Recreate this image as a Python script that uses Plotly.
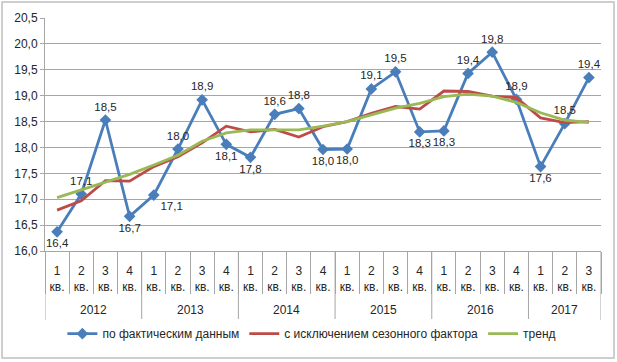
import plotly.graph_objects as go

years = ["2012"] * 4 + ["2013"] * 4 + ["2014"] * 4 + ["2015"] * 4 + ["2016"] * 4 + ["2017"] * 3
quarters = ["1", "2", "3", "4"] * 5 + ["1", "2", "3"]

actual = [16.37, 17.10, 18.53, 16.67, 17.08, 17.97, 18.92, 18.06, 17.81, 18.64, 18.75, 17.96,
          17.97, 19.13, 19.46, 18.30, 18.32, 19.43, 19.84, 18.93, 17.63, 18.46, 19.35]
adjusted = [16.79, 16.97, 17.36, 17.35, 17.63, 17.82, 18.09, 18.41, 18.30, 18.35, 18.20, 18.40,
            18.50, 18.66, 18.79, 18.74, 19.09, 19.08, 18.99, 18.96, 18.57, 18.48, 18.50]
trend = [17.03, 17.18, 17.34, 17.48, 17.66, 17.85, 18.12, 18.28, 18.34, 18.34, 18.34, 18.41,
         18.50, 18.63, 18.76, 18.85, 18.98, 19.03, 18.99, 18.87, 18.67, 18.53, 18.48]
label_pos = ["bottom center", "top center", "top center", "bottom center", "bottom right",
             "top center", "top center", "bottom center", "bottom center", "top center",
             "top center", "bottom center", "bottom center", "top center", "top center",
             "bottom center", "bottom center", "top center", "top center", "top center",
             "bottom center", "top center", "top center"]

names = ["по фактическим данным", "с исключением сезонного фактора", "тренд"]
colors = ["#4a7ebb", "#be4b48", "#98b954"]
grid_color = "#a6a6a6"

ids = [f"{y} {q} кв." for y, q in zip(years, quarters)]
qtext = [f"{q}<br>кв." for q in quarters]

fig = go.Figure()
fig.add_trace(go.Scatter(
    x=ids, y=actual, name=names[0], mode="lines+markers+text",
    line=dict(color=colors[0], width=2.8),
    marker=dict(symbol="diamond", size=9, color=colors[0]),
    texttemplate="%{y:.1f}", textposition=label_pos,
    textfont=dict(family="Liberation Sans, Arial", size=11.5, color="#262626"),
))
fig.add_trace(go.Scatter(
    x=ids, y=adjusted, name=names[1], mode="lines",
    line=dict(color=colors[1], width=2.8),
))
fig.add_trace(go.Scatter(
    x=ids, y=trend, name=names[2], mode="lines",
    line=dict(color=colors[2], width=2.8),
))

# year group labels and dividers (derived from the years list)
groups = []
for i, y in enumerate(years):
    if not groups or groups[-1][0] != y:
        groups.append([y, i, i])
    else:
        groups[-1][2] = i

annotations = []
shapes = [dict(type="rect", xref="paper", yref="paper",
               x0=-0.0773, x1=1.0234, y0=-0.459, y1=1.0687,
               line=dict(color="#bfbfbf", width=1.5), fillcolor="rgba(0,0,0,0)", layer="below")]
for y, a, b in groups:
    annotations.append(dict(x=(a + b) / 2, y=-0.253, xref="x", yref="paper", text=y,
                            showarrow=False, font=dict(size=12, color="#262626"),
                            xanchor="center", yanchor="middle"))
    shapes.append(dict(type="line", xref="x", yref="paper", x0=a - 0.5, x1=a - 0.5,
                       y0=0, y1=-0.296, line=dict(color=grid_color, width=1)))
shapes.append(dict(type="line", xref="x", yref="paper", x0=len(years) - 0.5, x1=len(years) - 0.5,
                   y0=0, y1=-0.296, line=dict(color=grid_color, width=1)))

fig.update_layout(
    width=617, height=362,
    margin=dict(l=45, r=16, t=18, b=111),
    paper_bgcolor="white", plot_bgcolor="white",
    separators=", ",
    font=dict(family="Liberation Sans, Arial", size=12, color="#262626"),
    showlegend=True,
    legend=dict(orientation="h", x=0.48, xanchor="center", y=-0.355, yanchor="middle",
                font=dict(size=12), itemwidth=30, traceorder="normal"),
    annotations=annotations,
    shapes=shapes,
)
fig.update_yaxes(range=[16.0, 20.5], dtick=0.5, tickformat=".1f",
                 showgrid=True, gridcolor=grid_color, gridwidth=1,
                 showline=True, linecolor=grid_color, linewidth=1,
                 ticks="outside", ticklen=4, tickcolor=grid_color,
                 zeroline=False, tickfont=dict(size=12))
fig.update_xaxes(type="category", showgrid=False, tickangle=0,
                 range=[-0.5, len(years) - 0.5],
                 tickmode="array", tickvals=ids, ticktext=qtext,
                 showline=True, linecolor=grid_color, linewidth=1, mirror=False,
                 ticks="outside", ticklen=42, tickcolor=grid_color, tickson="boundaries",
                 ticklabelstandoff=9,
                 tickfont=dict(size=12))

fig.write_html("out.html")
